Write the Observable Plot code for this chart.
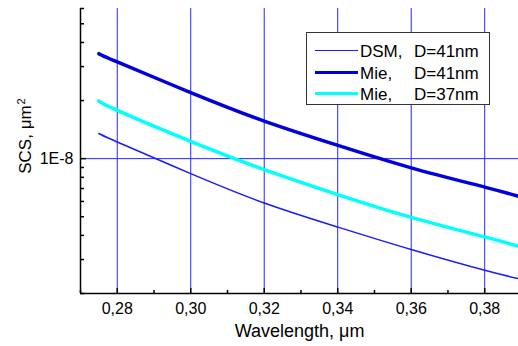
<!DOCTYPE html>
<html>
<head>
<meta charset="utf-8">
<script src="https://cdn.jsdelivr.net/npm/d3@7"></script>
<script src="https://cdn.jsdelivr.net/npm/@observablehq/plot@0.6"></script>
<style>
  html, body { margin: 0; padding: 0; background: #fff; overflow: hidden; }
  #wrap { position: relative; width: 518px; height: 346px; font-family: "Liberation Sans", Arial, sans-serif; }
  #legend { position: absolute; left: 306px; top: 32px; width: 182px; height: 71px; border: 1px solid #333; background: #fff; }
  .row { position: absolute; left: 0; height: 20px; width: 100%; font-size: 17px; color: #000; }
  .sw { position: absolute; left: 8px; width: 43px; top: 50%; }
  .c1 { position: absolute; left: 53px; top: 50%; transform: translateY(-50%); line-height: 1; }
  .c2 { position: absolute; left: 107px; top: 50%; transform: translateY(-50%); line-height: 1; }
  #ytitle { position: absolute; left: 25px; top: 135.5px; transform: translate(-50%, -50%) rotate(-90deg);
            font-size: 17px; white-space: nowrap; line-height: 1; color: #000; }
</style>
</head>
<body>
<div id="wrap"></div>
<script>
// ---- data ----
const wavelength = [0.275, 0.28, 0.30, 0.32, 0.34, 0.36, 0.38, 0.39];
const dsm41 = [1.35e-8, 1.22e-8, 8.36e-9, 5.89e-9, 4.42e-9, 3.38e-9, 2.64e-9, 2.37e-9];
const mie41 = [3.50e-8, 3.17e-8, 2.20e-8, 1.566e-8, 1.172e-8, 8.96e-9, 7.12e-9, 6.32e-9];
const mie37 = [1.99e-8, 1.78e-8, 1.229e-8, 8.77e-9, 6.51e-9, 4.96e-9, 3.93e-9, 3.48e-9];

const seriesNames = ["DSM, D=41nm", "Mie,   D=41nm", "Mie,   D=37nm"];
const legendCol1 = ["DSM,", "Mie,", "Mie,"];
const legendCol2 = ["D=41nm", "D=41nm", "D=37nm"];
const seriesColors = ["#1a1aff", "#0000dc", "#00ffff"];
const seriesWidths = [1.5, 3.5, 3.5];

const xDomain = [0.27, 0.3892];
const yDomain = [2e-9, 6e-8];
const xMajorTicks = [0.28, 0.30, 0.32, 0.34, 0.36, 0.38];
const xMinorTicks = [0.27, 0.29, 0.31, 0.33, 0.35, 0.37];
const yMajorTicks = [1e-8];
const yTickLabels = ["1E-8"];
const yMinorTicks = [2e-9, 3e-9, 4e-9, 5e-9, 6e-9, 7e-9, 8e-9, 9e-9, 2e-8, 3e-8, 4e-8, 5e-8, 6e-8];
const xTitle = "Wavelength, \u03bcm";
const yTitleMain = "SCS, \u03bcm";
const yTitleSup = "2";

const seriesValues = [dsm41, mie41, mie37];
const rows = [];
seriesNames.forEach((name, s) => {
  wavelength.forEach((w, i) => rows.push({series: name, x: w, y: seriesValues[s][i]}));
});

const gridColor = "#2626ff";
const font = "'Liberation Sans', Arial, sans-serif";

const chart = Plot.plot({
  width: 518,
  height: 346,
  marginLeft: 80,
  marginRight: 0,
  marginTop: 8,
  marginBottom: 53,
  style: {fontFamily: font, fontSize: "16px", background: "transparent", color: "#000"},
  x: {domain: xDomain},
  y: {type: "log", domain: yDomain},
  marks: [
    Plot.ruleX(xMajorTicks, {stroke: gridColor, strokeWidth: 1}),
    Plot.ruleY(yMajorTicks, {stroke: gridColor, strokeWidth: 1}),
    ...seriesNames.map((name, s) =>
      Plot.line(rows.filter(d => d.series === name), {
        x: "x", y: "y", stroke: seriesColors[s], strokeWidth: seriesWidths[s],
        curve: "natural", clip: true
      })
    ),
    Plot.ruleX([xDomain[0]], {stroke: "#000", strokeWidth: 1.5}),
    Plot.ruleY([yDomain[0]], {stroke: "#000", strokeWidth: 1.5}),
    // inward ticks (shifted into the frame)
    Plot.axisX({ticks: xMajorTicks, tickSize: 5, dy: -5, tickFormat: () => "", label: null, stroke: "#000", strokeWidth: 1.5}),
    Plot.axisX({ticks: xMinorTicks, tickSize: 3, dy: -3, tickFormat: () => "", label: null, stroke: "#000", strokeWidth: 1.5}),
    Plot.axisY({ticks: yMinorTicks, tickSize: 4, dx: 4, tickFormat: () => "", label: null, stroke: "#000", strokeWidth: 1.5}),
    Plot.axisY({ticks: yMajorTicks, tickSize: 6, dx: 6, tickFormat: () => "", label: null, stroke: "#000", strokeWidth: 1.5}),
    // tick labels
    Plot.axisX({ticks: xMajorTicks, tickSize: 0, tickPadding: 9, fontSize: 16,
      tickFormat: d => d.toFixed(2).replace(".", ","), label: null}),
    Plot.text(yMajorTicks, {y: d => d, text: (d, i) => yTickLabels[i], frameAnchor: "left",
      textAnchor: "end", dx: -7, fontSize: 16}),
    // x title
    Plot.text([xTitle], {text: d => d, frameAnchor: "bottom", lineAnchor: "top", dy: 31, fontSize: 18})
  ]
});

const wrap = document.getElementById("wrap");
wrap.appendChild(chart);

const yt = document.createElement("div");
yt.id = "ytitle";
yt.innerHTML = yTitleMain + '<sup style="font-size:11px;vertical-align:6px;margin-left:1px">' + yTitleSup + '</sup>';
wrap.appendChild(yt);

const legend = document.createElement("div");
legend.id = "legend";
const rowCenters = [18, 39.5, 60.5];
seriesNames.forEach((name, s) => {
  const r = document.createElement("div");
  r.className = "row";
  r.style.top = (rowCenters[s] - 10) + "px";
  const sw = document.createElement("div");
  sw.className = "sw";
  sw.style.borderTop = seriesWidths[s] + "px solid " + seriesColors[s];
  sw.style.marginTop = (-seriesWidths[s] / 2) + "px";
  const c1 = document.createElement("span");
  c1.className = "c1";
  c1.textContent = legendCol1[s];
  const c2 = document.createElement("span");
  c2.className = "c2";
  c2.textContent = legendCol2[s];
  r.appendChild(sw); r.appendChild(c1); r.appendChild(c2);
  legend.appendChild(r);
});
wrap.appendChild(legend);
</script>
</body>
</html>
